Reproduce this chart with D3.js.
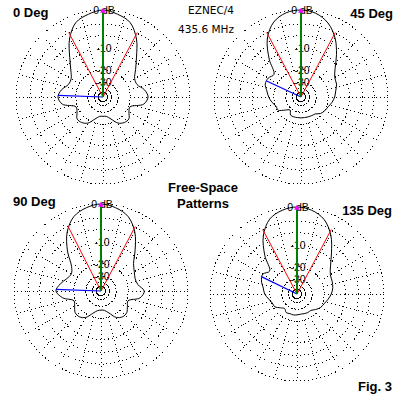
<!DOCTYPE html>
<html>
<head>
<meta charset="utf-8">
<script src="https://cdn.jsdelivr.net/npm/d3@7"></script>
<style>
  body { margin: 0; background: #fff; }
  text { font-family: "Liberation Sans", Arial, sans-serif; }
</style>
</head>
<body>
<div id="chart"></div>
<script>
// azimuth (deg, clockwise from the main beam) and relative gain in dB
var angles = [0, 10, 20, 30, 40, 50, 60, 70, 80, 90, 100, 110, 120, 130, 140, 150, 160, 170,
              180, 190, 200, 210, 220, 230, 240, 250, 260, 270, 280, 290, 300, 310, 320, 330, 340, 350];
var gain0 = [0, -0.6, -1.6, -4.5, -8.8, -12.3, -14.9, -15, -12.5, -11.3, -12.8, -19, -18.3, -16.2, -16.5, -18.2, -22.5, -25.5,
             -25.8, -25.5, -22.5, -18.2, -16.5, -16.2, -18.3, -19, -12.8, -11.3, -12.5, -14.8, -14.8, -12.5, -8.9, -4.5, -1.6, -0.6];
var gain45 = [0, -0.4, -1.7, -4.2, -7.8, -11.5, -13.8, -14.3, -15.5, -16.3, -17.5, -19, -19.8, -21, -23.5, -24, -24.3, -24.5,
              -24.5, -24.5, -24.3, -24.5, -28, -25, -20.5, -20.3, -18.5, -17, -15.8, -14.2, -14.3, -15.5, -9.7, -4.4, -1.5, -0.3];
var gain90 = [0, -0.5, -1.6, -4.3, -8.5, -12.3, -14, -15, -14.5, -12, -13.5, -19, -18, -16.3, -16.3, -18, -22.5, -25.5,
              -26, -25.3, -22.3, -18, -16.3, -16.3, -18, -19, -13.8, -11.3, -12.8, -15, -16, -14, -8.8, -4.3, -1.6, -0.5];
var gain135 = [0, -0.4, -1.6, -4.3, -8.3, -11.8, -14, -14.5, -15, -16, -17.5, -19, -20, -22, -24, -24, -24.5, -24.8,
               -24.5, -24.2, -24.5, -24, -26, -24, -21, -20.5, -19, -17, -16, -14.3, -13.5, -15.3, -9.5, -4.4, -1.5, -0.4];

var titles = ["0 Deg", "45 Deg", "90 Deg", "135 Deg"];
var ringDb = [0, -3, -6, -10, -20, -30, -40, -50];
var labelDb = [0, -10, -20, -30];
var labelText = ["0 dB", "-10", "-20", "-30"];
var beamLeft = [-28, -28, -27, -28];
var beamRight = [28, 28, 28, 28];
var lobeAz = [-88, -65, -88, -64];
var lobeDb = [-11.3, -14, -11.3, -13.5];

var gains = [gain0, gain45, gain90, gain135];
var R = 87;
var centers = [[103, 97], [301, 97], [101, 291], [297, 294]];
var titlePos = [[13, 17, "start"], [393, 18, "end"], [13, 206, "start"], [392, 215, "end"]];
var ringDash = { "-20": "1 2", "-30": "2 1.5", "-40": "2 1", "-50": null };

// ARRL log scale: 0.89 per 2 dB, i.e. radius ~ power^0.253
var r = d3.scalePow().exponent(0.253).domain([0, 1]).range([0, R]);
var rdb = function(db) { return r(Math.pow(10, db / 10)); };
var rad = function(deg) { return deg * Math.PI / 180; };
var px = function(az, rr) { return [rr * Math.sin(rad(az)), -rr * Math.cos(rad(az))]; };

var svg = d3.select("#chart").append("svg")
  .attr("width", 400).attr("height", 400)
  .style("background", "#fff");

var line = d3.lineRadial()
  .angle(function(d) { return rad(d[0]); })
  .radius(function(d) { return rdb(d[1]); })
  .curve(d3.curveCatmullRomClosed.alpha(0.5));

centers.forEach(function(c, i) {
  var g = svg.append("g").attr("transform", "translate(" + c[0] + "," + c[1] + ")");

  // grid
  g.selectAll("circle.ring").data(ringDb).enter().append("circle")
    .attr("class", "ring")
    .attr("r", function(d) { return rdb(d); })
    .attr("fill", "none").attr("stroke", "#000").attr("stroke-width", 1)
    .attr("stroke-dasharray", function(d) { return (d in ringDash) ? ringDash[d] : "1 3"; })
    .attr("shape-rendering", "crispEdges");

  g.selectAll("line.spoke").data(d3.range(0, 360, 15)).enter().append("line")
    .attr("class", "spoke")
    .attr("x1", function(d) { return px(d, rdb(-20))[0]; })
    .attr("y1", function(d) { return px(d, rdb(-20))[1]; })
    .attr("x2", function(d) { return px(d, R)[0]; })
    .attr("y2", function(d) { return px(d, R)[1]; })
    .attr("stroke", "#000").attr("stroke-dasharray", "1 3")
    .attr("shape-rendering", "crispEdges");

  // ring labels
  g.selectAll("text.lbl").data(labelDb).enter().append("text")
    .attr("class", "lbl")
    .attr("x", 1)
    .attr("y", function(d) { return -rdb(d) + 4; })
    .attr("text-anchor", "middle")
    .attr("font-size", "10.5px")
    .text(function(d, j) { return labelText[j]; });

  // pattern
  var pts = angles.map(function(a, j) { return [a, gains[i][j]]; });
  g.append("path").attr("d", line(pts))
    .attr("fill", "none").attr("stroke", "#000").attr("stroke-width", 1);

  // beamwidth, max and sidelobe lines
  [beamLeft[i], beamRight[i]].forEach(function(az) {
    var p = px(az, rdb(-3));
    g.append("line").attr("x1", 0).attr("y1", 0).attr("x2", p[0]).attr("y2", p[1])
      .attr("stroke", "#ff0000").attr("stroke-width", 1);
  });
  var pb = px(lobeAz[i], rdb(lobeDb[i]));
  g.append("line").attr("x1", 0).attr("y1", 0).attr("x2", pb[0]).attr("y2", pb[1])
    .attr("stroke", "#0000ff").attr("stroke-width", 1.2);
  g.append("line").attr("x1", 0).attr("y1", 0).attr("x2", 0).attr("y2", -rdb(0))
    .attr("stroke", "#008000").attr("stroke-width", 2);
  g.append("path").attr("d", d3.symbol(d3.symbolTriangle, 14)())
    .attr("transform", "translate(0," + (-rdb(0) + 1) + ")")
    .attr("fill", "#ff00ff");

  svg.append("text")
    .attr("x", titlePos[i][0]).attr("y", titlePos[i][1])
    .attr("text-anchor", titlePos[i][2])
    .attr("font-size", "13px").attr("font-weight", "bold")
    .text(titles[i]);
});

svg.append("text").attr("x", 211).attr("y", 14).attr("text-anchor", "middle")
  .attr("font-size", "10.5px").style("font-family", "'DejaVu Sans', sans-serif").text("EZNEC/4");
svg.append("text").attr("x", 206).attr("y", 33).attr("text-anchor", "middle")
  .attr("font-size", "10.5px").style("font-family", "'DejaVu Sans', sans-serif").text("435.6 MHz");
svg.append("text").attr("x", 203).attr("y", 192).attr("text-anchor", "middle")
  .attr("font-size", "13px").attr("font-weight", "bold").text("Free-Space");
svg.append("text").attr("x", 203).attr("y", 208).attr("text-anchor", "middle")
  .attr("font-size", "13px").attr("font-weight", "bold").text("Patterns");
svg.append("text").attr("x", 392).attr("y", 391).attr("text-anchor", "end")
  .attr("font-size", "13px").attr("font-weight", "bold").text("Fig. 3");
</script>
</body>
</html>
